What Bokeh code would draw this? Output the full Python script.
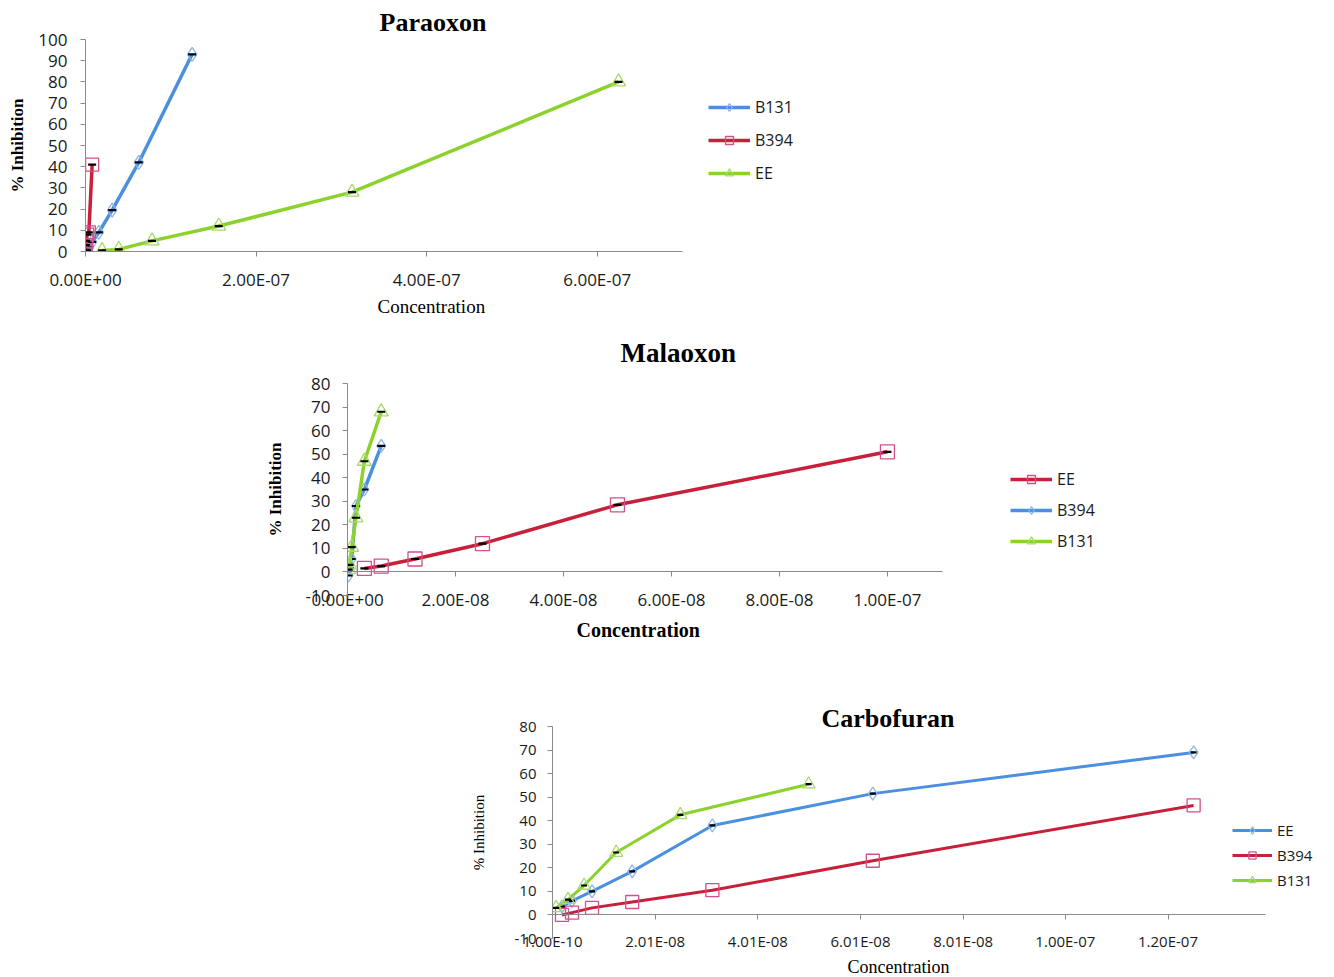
from bokeh.plotting import figure
from bokeh.models import (Range1d, LinearAxis, FixedTicker, CustomJSTickFormatter,
                          Legend, LegendItem, Title)
from bokeh.embed import file_html
from bokeh.resources import INLINE

# ---------------- data ----------------
# Paraoxon
para_b131_x = [1.95e-9, 3.9e-9, 7.8e-9, 1.5625e-8, 3.125e-8, 6.25e-8, 1.25e-7]
para_b131_y = [0.5, 2, 4.5, 9, 19.5, 42, 93]
para_b394_x = [2.4e-10, 4.9e-10, 9.8e-10, 1.95e-9, 3.9e-9, 7.8e-9]
para_b394_y = [0.5, 3, 5, 8, 9, 41]
para_ee_x = [1.95e-8, 3.9e-8, 7.8e-8, 1.5625e-7, 3.125e-7, 6.25e-7]
para_ee_y = [0.5, 1, 5, 12, 28, 80]
para_xticks = [0, 2e-7, 4e-7, 6e-7]
para_yticks = [0, 10, 20, 30, 40, 50, 60, 70, 80, 90, 100]

# Malaoxon
mala_ee_x = [3.125e-9, 6.25e-9, 1.25e-8, 2.5e-8, 5e-8, 1e-7]
mala_ee_y = [1.5, 2.5, 5.5, 12, 28.5, 51]
mala_b394_x = [1.95e-10, 3.9e-10, 7.8e-10, 1.5625e-9, 3.125e-9, 6.25e-9]
mala_b394_y = [-1.5, 1.5, 5.5, 28, 35, 53.5]
mala_b131_x = [1.95e-10, 3.9e-10, 7.8e-10, 1.5625e-9, 3.125e-9, 6.25e-9]
mala_b131_y = [1, 3, 10.5, 23, 47, 68]
mala_xticks = [0, 2e-8, 4e-8, 6e-8, 8e-8, 1e-7]
mala_yticks = [-10, 0, 10, 20, 30, 40, 50, 60, 70, 80]

# Carbofuran
carb_ee_x = [1.95e-9, 3.9e-9, 7.8e-9, 1.5625e-8, 3.125e-8, 6.25e-8, 1.25e-7]
carb_ee_y = [3.5, 6, 10, 18.5, 38, 51.5, 69]
carb_b394_x = [1.95e-9, 3.9e-9, 7.8e-9, 1.5625e-8, 3.125e-8, 6.25e-8, 1.25e-7]
carb_b394_y = [0, 1, 3, 5.5, 10.5, 23, 46.5]
carb_b131_x = [7.8e-10, 3.125e-9, 6.25e-9, 1.25e-8, 2.5e-8, 5e-8]
carb_b131_y = [3, 6.5, 12.5, 26.5, 42.5, 55.5]
carb_xticks = [1.0e-10, 2.01e-8, 4.01e-8, 6.01e-8, 8.01e-8, 1.0001e-7, 1.2001e-7]
carb_yticks = [-10, 0, 10, 20, 30, 40, 50, 60, 70, 80]

# ---------------- styles ----------------
BLUE, BLUE_M = "#4a8fe0", "#8fb4e6"
RED, RED_M = "#c81f3a", "#d2508c"
GREEN, GREEN_M = "#8cd22d", "#a8d870"
AXIS = "#8a8a8a"
TXT = "#1a1a1a"
SANS = "Open Sans"
SERIF = "Liberation Serif"
W = 1334

SCI_JS = """
const s = tick.toExponential(2).toUpperCase();
const parts = s.split('E');
const n = parseInt(parts[1]);
const a = Math.abs(n);
return parts[0] + 'E' + (n < 0 ? '-' : '+') + (a < 10 ? '0' : '') + a;
"""


def build(cfg):
    top_page = cfg["top"]
    fl, ar, fr, ft, fb = cfg["frame"]   # frame left, axis end, frame right, top, bottom
    x0, x1 = cfg["xr"]
    # the frame extends past the axis end so the legend (drawn in the frame) is visible
    x_end = x0 + (x1 - x0) * (fr - fl) / (ar - fl)
    p = figure(width=W, height=cfg["height"],
               x_range=Range1d(x0, x_end), y_range=Range1d(*cfg["yr"]),
               output_backend="svg", toolbar_location=None,
               min_border_left=fl, min_border_right=W - fr,
               min_border_top=ft - top_page,
               min_border_bottom=top_page + cfg["height"] - fb)
    p.xgrid.visible = False
    p.ygrid.visible = False
    p.outline_line_color = None
    p.background_fill_color = None
    p.border_fill_color = None

    p.title.text = cfg["title"]
    p.title.align = "left"
    p.title.offset = cfg["title_offset"]
    p.title.standoff = cfg["title_standoff"]
    p.title.text_font = SERIF
    p.title.text_font_style = "bold"
    p.title.text_font_size = cfg["title_size"]
    p.title.text_color = "#000000"

    ya = p.yaxis[0]
    ya.ticker = FixedTicker(ticks=cfg["yticks"])
    ya.formatter = CustomJSTickFormatter(code="return tick.toFixed(0);")
    ya.axis_line_color = AXIS
    ya.major_tick_line_color = AXIS
    ya.major_tick_out = 5
    ya.major_tick_in = 0
    ya.minor_tick_line_color = None
    ya.major_label_text_font = SANS
    ya.major_label_text_font_size = cfg["tick_size"]
    ya.major_label_text_color = TXT
    ya.major_label_standoff = cfg["ylab_standoff"]
    ya.axis_label = "% Inhibition"
    ya.axis_label_text_font = SERIF
    ya.axis_label_text_font_style = cfg["ytitle_style"]
    ya.axis_label_text_font_size = cfg["ytitle_size"]
    ya.axis_label_text_color = "#000000"
    ya.axis_label_standoff = cfg["ytitle_standoff"]

    xa = p.xaxis[0]
    xa.bounds = (x0, x1)
    xa.ticker = FixedTicker(ticks=cfg["xticks"])
    xa.formatter = CustomJSTickFormatter(code=SCI_JS)
    xa.minor_tick_line_color = None
    xa.major_label_text_font = SANS
    xa.major_label_text_font_size = cfg["tick_size"]
    xa.major_label_text_color = TXT
    xa.major_label_standoff = cfg["xlab_standoff"]
    if cfg["zero_axis"]:
        xa.axis_line_color = None
        xa.major_tick_line_color = None
        xa.major_tick_out = 0
        xa.major_tick_in = 0
        zax = LinearAxis(fixed_location=0, bounds=(x0, x1),
                         ticker=FixedTicker(ticks=cfg["xticks"]),
                         formatter=CustomJSTickFormatter(code="return '';"),
                         axis_line_color=AXIS, major_tick_line_color=AXIS,
                         major_tick_out=5, major_tick_in=0,
                         minor_tick_line_color=None,
                         major_label_text_font_size="1px")
        p.add_layout(zax, "below")
    else:
        xa.axis_line_color = AXIS
        xa.major_tick_line_color = AXIS
        xa.major_tick_out = 5
        xa.major_tick_in = 0

    # x-axis title as a below-title so it can be offset like the original
    xt = Title(text="Concentration", align="left", offset=cfg["xtitle_offset"],
               standoff=cfg["xtitle_standoff"], text_font=SERIF,
               text_font_style=cfg["xtitle_style"],
               text_font_size=cfg["xtitle_size"], text_color="#000000")
    p.add_layout(xt, "below")

    items = []
    for s in cfg["series"]:
        lr = p.line(s["x"], s["y"], line_color=s["color"], line_width=cfg["lw"])
        mr = p.scatter(s["x"], s["y"], marker=s["marker"], size=s["size"],
                       line_color=s["mcolor"], fill_alpha=0, line_width=1.3)
        if s.get("err", True):
            p.scatter(s["x"], s["y"], marker="dash", size=cfg["dash"],
                      line_color="black", line_width=2.2)
        items.append(LegendItem(label=s["label"], renderers=[lr, mr]))

    gl, gb, gh, sp = cfg["legend"]
    leg = Legend(items=items, location=(gl - fl, fb - gb),
                 border_line_color=None, background_fill_alpha=0,
                 padding=0, margin=0, glyph_width=cfg["glyph_w"],
                 glyph_height=gh, label_height=gh, spacing=sp,
                 label_standoff=5, label_text_font=SANS,
                 label_text_font_size=cfg["leg_size"], label_text_color=TXT)
    p.add_layout(leg)
    return p


para = build(dict(
    top=0, height=318, frame=(85, 682, 815, 39, 251),
    xr=(0, 7.0e-7), yr=(0, 100), xticks=para_xticks, yticks=para_yticks,
    title="Paraoxon", title_offset=294, title_standoff=6, title_size="26px",
    tick_size="17px", ylab_standoff=13, ytitle_style="bold", ytitle_size="17px",
    ytitle_standoff=8, xlab_standoff=11, xtitle_style="normal", xtitle_size="19px",
    xtitle_offset=292, xtitle_standoff=0, zero_axis=False, lw=3.5, dash=8,
    legend=(708, 184, 20, 11), glyph_w=42, leg_size="16px",
    series=[
        dict(label="B131", x=para_b131_x, y=para_b131_y, color=BLUE, mcolor=BLUE_M, marker="diamond", size=14),
        dict(label="B394", x=para_b394_x, y=para_b394_y, color=RED, mcolor=RED_M, marker="square", size=13),
        dict(label="EE", x=para_ee_x, y=para_ee_y, color=GREEN, mcolor=GREEN_M, marker="triangle", size=14),
    ]))

mala = build(dict(
    top=318, height=327, frame=(347, 942, 1115, 383, 595),
    xr=(0, 1.102e-7), yr=(-10, 80), xticks=mala_xticks, yticks=mala_yticks,
    title="Malaoxon", title_offset=273, title_standoff=32, title_size="27px",
    tick_size="17px", ylab_standoff=12, ytitle_style="bold", ytitle_size="17px",
    ytitle_standoff=18, xlab_standoff=-8, xtitle_style="bold", xtitle_size="20px",
    xtitle_offset=229, xtitle_standoff=7, zero_axis=True, lw=3.5, dash=8,
    legend=(1010, 552, 20, 9), glyph_w=42, leg_size="16px",
    series=[
        dict(label="EE", x=mala_ee_x, y=mala_ee_y, color=RED, mcolor=RED_M, marker="square", size=14),
        dict(label="B394", x=mala_b394_x, y=mala_b394_y, color=BLUE, mcolor=BLUE_M, marker="diamond", size=13),
        dict(label="B131", x=mala_b131_x, y=mala_b131_y, color=GREEN, mcolor=GREEN_M, marker="triangle", size=14),
    ]))

carb = build(dict(
    top=645, height=332, frame=(552, 1265, 1330, 726, 938),
    xr=(1.0e-10, 1.39e-7), yr=(-10, 80), xticks=carb_xticks, yticks=carb_yticks,
    title="Carbofuran", title_offset=269, title_standoff=-12, title_size="26px",
    tick_size="15px", ylab_standoff=11, ytitle_style="normal", ytitle_size="15px",
    ytitle_standoff=25, xlab_standoff=-8, xtitle_style="normal", xtitle_size="18px",
    xtitle_offset=295, xtitle_standoff=2, zero_axis=True, lw=3, dash=6,
    legend=(1232, 890, 18, 5), glyph_w=40, leg_size="15px",
    series=[
        dict(label="EE", x=carb_ee_x, y=carb_ee_y, color=BLUE, mcolor=BLUE_M, marker="diamond", size=13),
        dict(label="B394", x=carb_b394_x, y=carb_b394_y, color=RED, mcolor=RED_M, marker="square", size=13, err=False),
        dict(label="B131", x=carb_b131_x, y=carb_b131_y, color=GREEN, mcolor=GREEN_M, marker="triangle", size=13),
    ]))

# three independent roots stacked on the page (no frame alignment between them)
open("out.html", "w").write(file_html([para, mala, carb], INLINE))
